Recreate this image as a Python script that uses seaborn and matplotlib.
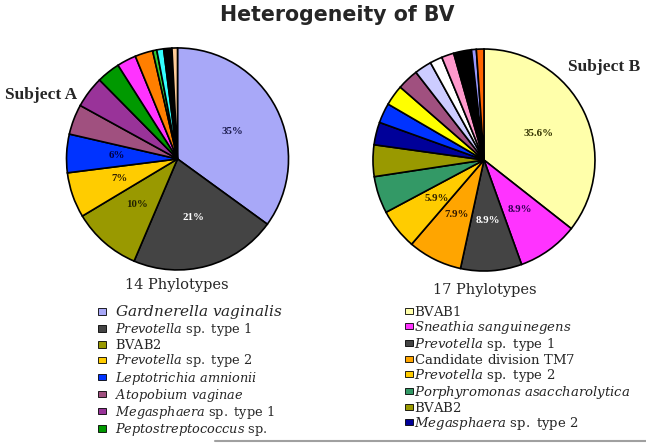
import matplotlib.pyplot as plt
import seaborn as sns
from matplotlib.lines import Line2D

sns.set_theme(style="white")
plt.rcParams['font.family'] = ['DejaVu Serif', 'DejaVu Sans']
plt.rcParams['mathtext.fontset'] = 'custom'
plt.rcParams['mathtext.rm'] = 'DejaVu Serif'
plt.rcParams['mathtext.it'] = 'DejaVu Serif:italic'

# Subject A - 14 phylotypes (% of clones)
share_a = [35.0, 21.4, 10.0, 6.6, 5.6, 4.4, 4.6, 3.4, 2.8, 2.6, 0.6, 1.0, 1.2, 0.8]
names_a = [
    r"$\mathit{Gardnerella\ vaginalis}$",
    r"$\mathit{Prevotella}\ \mathrm{sp.\ type\ 1}$",
    r"$\mathrm{BVAB2}$",
    r"$\mathit{Prevotella}\ \mathrm{sp.\ type\ 2}$",
    r"$\mathit{Leptotrichia\ amnionii}$",
    r"$\mathit{Atopobium\ vaginae}$",
    r"$\mathit{Megasphaera}\ \mathrm{sp.\ type\ 1}$",
    r"$\mathit{Peptostreptococcus}\ \mathrm{sp.}$",
]
colors_a = ["#A8A8F8", "#444444", "#999900", "#FFCC00", "#0033FF", "#A0507F", "#993399",
            "#009900", "#FF33FF", "#FF7F00", "#33CC33", "#33FFFF", "#000000", "#FFCC99"]
pct_colors_a = ["#1a1a4d", "white", "#222200", "#332200", "#000044"]

# Subject B - 17 phylotypes
share_b = [35.6, 8.9, 8.9, 7.9, 5.9, 5.4, 4.6, 3.3, 2.9, 3.0, 3.1, 2.5, 1.8, 1.8, 2.6, 0.7, 1.1]
names_b = [
    r"$\mathrm{BVAB1}$",
    r"$\mathit{Sneathia\ sanguinegens}$",
    r"$\mathit{Prevotella}\ \mathrm{sp.\ type\ 1}$",
    r"$\mathrm{Candidate\ division\ TM7}$",
    r"$\mathit{Prevotella}\ \mathrm{sp.\ type\ 2}$",
    r"$\mathit{Porphyromonas\ asaccharolytica}$",
    r"$\mathrm{BVAB2}$",
    r"$\mathit{Megasphaera}\ \mathrm{sp.\ type\ 2}$",
]
colors_b = ["#FFFFAA", "#FF33FF", "#444444", "#FFA500", "#FFCC00", "#339966", "#999900",
            "#000099", "#0033FF", "#FFFF00", "#A0507F", "#CCCCFF", "#FFFFFF", "#FF99CC",
            "#000000", "#9999FF", "#FF6600"]
pct_colors_b = ["#333300", "#330055", "white", "#331a00", "#332200"]


def pct_fmt(fmt, lim):
    return lambda p: (fmt % p) if p > lim else ""


def draw_pie(ax, share, colors, pct_colors, fmt, lim):
    wedges, _, autotexts = ax.pie(
        share, colors=colors, startangle=90, counterclock=False,
        wedgeprops=dict(edgecolor="black", linewidth=1.2),
        autopct=pct_fmt(fmt, lim), pctdistance=0.55,
        textprops=dict(family="Liberation Serif", fontweight="bold", fontsize=7.8))
    for i, t in enumerate(autotexts):
        if i < len(pct_colors):
            t.set_color(pct_colors[i])
    ax.set_xlim(-1.25, 1.25)
    ax.set_ylim(-1.25, 1.25)
    return wedges


fig = plt.figure(figsize=(6.46, 4.43), dpi=100)
ax_a = fig.add_axes([0.06, 0.328, 0.4296, 0.6264])
ax_b = fig.add_axes([0.5344, 0.3256, 0.4296, 0.6264])

wedges_a = draw_pie(ax_a, share_a, colors_a, pct_colors_a, "%.0f%%", 5)
wedges_b = draw_pie(ax_b, share_b, colors_b, pct_colors_b, "%.1f%%", 5.5)

fig.text(0.522, 0.966, "Heterogeneity of BV", family="DejaVu Sans", fontweight="bold",
         fontsize=14.8, ha="center", va="center")
fig.text(0.064, 0.786, "Subject A", family="Liberation Serif", fontweight="bold",
         fontsize=12.5, ha="center", va="center")
fig.text(0.935, 0.849, "Subject B", family="Liberation Serif", fontweight="bold",
         fontsize=12.5, ha="center", va="center")
fig.text(0.273, 0.357, "14 Phylotypes", fontsize=10.5, ha="center", va="center")
fig.text(0.75, 0.346, "17 Phylotypes", fontsize=10.5, ha="center", va="center")

leg_a = fig.legend(wedges_a[:len(names_a)], names_a, loc="upper left",
                   bbox_to_anchor=(0.1517, 0.316), frameon=False, fontsize=9.3,
                   borderpad=0, borderaxespad=0, labelspacing=0.01,
                   handlelength=0.65, handleheight=0.4, handletextpad=0.7)
leg_a.get_texts()[0].set_fontsize(11)
for h in leg_a.legend_handles:
    h.set_linewidth(0.6)

leg_b = fig.legend(wedges_b[:len(names_b)], names_b, loc="upper left",
                   bbox_to_anchor=(0.627, 0.312), frameon=False, fontsize=9.5,
                   borderpad=0, borderaxespad=0, labelspacing=0.0,
                   handlelength=0.58, handleheight=0.37, handletextpad=0.12)
for h in leg_b.legend_handles:
    h.set_linewidth(0.6)

fig.add_artist(Line2D([0.333, 1.0], [0.005, 0.005], color="#A0A0A0", linewidth=1.5))

fig.savefig("out.png", dpi=100)
